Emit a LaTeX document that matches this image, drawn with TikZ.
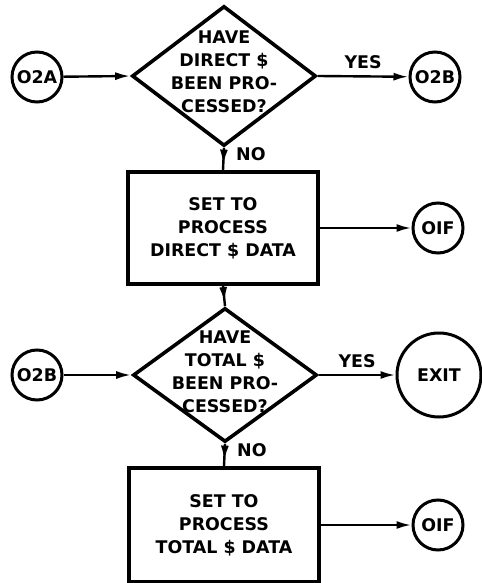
\documentclass[tikz,border=0pt]{standalone}
\usepackage{fontspec}
\setmainfont{DejaVu Sans}
\usetikzlibrary{shapes.geometric}
\usetikzlibrary{arrows.meta}
\usetikzlibrary{decorations.markings}

\begin{document}
\begin{tikzpicture}[x=1bp, y=-1bp,
		every node/.style={font=\bfseries\fontsize{17.5}{23}\selectfont},
		query/.style={diamond, draw, line width=3.6bp, line join=miter, minimum width=184bp, minimum height=140bp, inner sep=0pt},
		qtext/.style={align=center, inner sep=0pt},
		task/.style={rectangle, draw, line width=3.6bp, minimum width=190bp, minimum height=112bp, align=center},
		conn/.style={circle, draw, line width=3bp, minimum size=50bp, inner sep=0pt},
		flow/.style={line width=2.4bp, -{Latex[length=15bp, width=8bp]}},
		midflow/.style={line width=2.4bp, decoration={markings, mark=at position #1 with {\arrow{Latex[length=15bp, width=8bp]}}}, postaction={decorate}}]
		\useasboundingbox (0,0) rectangle (482,583);
		
		% first question and its branches
		\node at (224,76) [query] (q1) {};
		\node at (q1.center) [qtext, yshift=4bp] (q1text) {HAVE\\DIRECT \$\\BEEN PRO-\\CESSED?};
		\node at (37,77) [conn] (c02a) {O2A};
		\node at (435,77) [conn] (c02b) {O2B};
		\node at (223,228) [task] (b1) {SET TO\\PROCESS\\DIRECT \$ DATA};
		\node at (438,228) [conn] (o1f) {OIF};
		
		% second question and its branches
		\node at (225,375) [query, minimum height=134bp] (q2) {};
		\node at (q2.center) [qtext, yshift=3bp] (q2text) {HAVE\\TOTAL \$\\BEEN PRO-\\CESSED?};
		\node at (37,375) [conn] (c02bb) {O2B};
		\node at (439,375) [conn, minimum size=84bp] (exit) {EXIT};
		\node at (224,525) [task, minimum height=114bp] (b2) {SET TO\\PROCESS\\TOTAL \$ DATA};
		\node at (438,525) [conn] (o1fb) {OIF};
		
		\draw [flow] (c02a) -- (q1.west);
		\draw [flow] (q1.east) -- (c02b) node [midway, above=3bp] (yes1) {YES};
		\draw [midflow=0.75] (q1.south) -- (b1.north) node [pos=0.3, right=8bp] (no1) {NO};
		\draw [flow] (b1.east) -- (o1f);
		\draw [midflow=0.8] (b1.south) -- (q2.north);
		
		\draw [flow] (c02bb) -- (q2.west);
		\draw [flow] (q2.east) -- (exit) node [midway, above=3bp] (yes2) {YES};
		\draw [midflow=0.75] (q2.south) -- (b2.north) node [pos=0.3, right=8bp] (no2) {NO};
		\draw [flow] (b2.east) -- (o1fb);
		
\end{tikzpicture}
\end{document}
